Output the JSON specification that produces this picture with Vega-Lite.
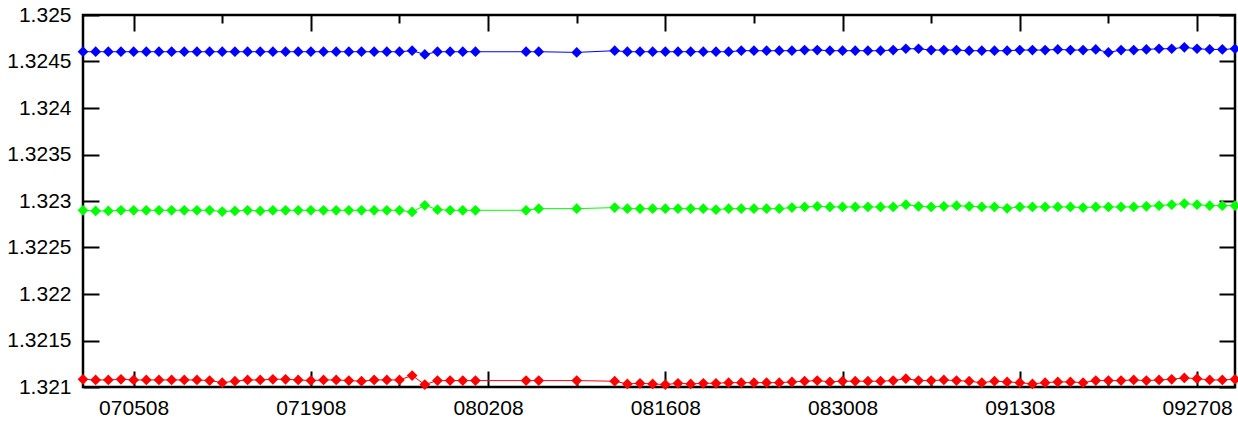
{
  "$schema": "https://vega.github.io/schema/vega-lite/v6.json",
  "width": 1152,
  "height": 372,
  "autosize": "none",
  "padding": {"left": 83, "top": 15, "right": 3, "bottom": 39},
  "background": "white",
  "config": {
    "view": {"stroke": "black", "strokeWidth": 2.5},
    "axis": {"labelFont": "Liberation Sans", "labelFontSize": 21, "labelColor": "black", "tickColor": "black", "tickWidth": 2, "domain": false, "grid": false, "title": null, "labelFlush": false, "labelOverlap": false}
  },
  "data": {"values": [
    {"date": "2008-07-01", "blue": 1.324605, "green": 1.3229, "red": 1.321083},
    {"date": "2008-07-02", "blue": 1.324605, "green": 1.322893, "red": 1.321076},
    {"date": "2008-07-03", "blue": 1.324605, "green": 1.322893, "red": 1.321076},
    {"date": "2008-07-04", "blue": 1.324605, "green": 1.3229, "red": 1.321083},
    {"date": "2008-07-05", "blue": 1.324605, "green": 1.3229, "red": 1.321076},
    {"date": "2008-07-06", "blue": 1.324605, "green": 1.3229, "red": 1.321076},
    {"date": "2008-07-07", "blue": 1.324605, "green": 1.3229, "red": 1.321076},
    {"date": "2008-07-08", "blue": 1.324605, "green": 1.3229, "red": 1.321076},
    {"date": "2008-07-09", "blue": 1.324605, "green": 1.3229, "red": 1.321076},
    {"date": "2008-07-10", "blue": 1.324605, "green": 1.3229, "red": 1.321076},
    {"date": "2008-07-11", "blue": 1.324605, "green": 1.3229, "red": 1.321069},
    {"date": "2008-07-12", "blue": 1.324605, "green": 1.322886, "red": 1.321047},
    {"date": "2008-07-13", "blue": 1.324605, "green": 1.322893, "red": 1.321062},
    {"date": "2008-07-14", "blue": 1.324605, "green": 1.3229, "red": 1.321076},
    {"date": "2008-07-15", "blue": 1.324605, "green": 1.322893, "red": 1.321076},
    {"date": "2008-07-16", "blue": 1.324605, "green": 1.3229, "red": 1.321083},
    {"date": "2008-07-17", "blue": 1.324605, "green": 1.3229, "red": 1.321083},
    {"date": "2008-07-18", "blue": 1.324605, "green": 1.3229, "red": 1.321076},
    {"date": "2008-07-19", "blue": 1.324605, "green": 1.3229, "red": 1.321069},
    {"date": "2008-07-20", "blue": 1.324605, "green": 1.3229, "red": 1.321076},
    {"date": "2008-07-21", "blue": 1.324605, "green": 1.3229, "red": 1.321076},
    {"date": "2008-07-22", "blue": 1.324605, "green": 1.3229, "red": 1.321069},
    {"date": "2008-07-23", "blue": 1.324605, "green": 1.3229, "red": 1.321062},
    {"date": "2008-07-24", "blue": 1.324605, "green": 1.3229, "red": 1.321076},
    {"date": "2008-07-25", "blue": 1.324605, "green": 1.3229, "red": 1.321076},
    {"date": "2008-07-26", "blue": 1.324605, "green": 1.3229, "red": 1.321076},
    {"date": "2008-07-27", "blue": 1.324616, "green": 1.322882, "red": 1.321123},
    {"date": "2008-07-28", "blue": 1.324576, "green": 1.322954, "red": 1.321026},
    {"date": "2008-07-29", "blue": 1.324605, "green": 1.322907, "red": 1.321069},
    {"date": "2008-07-30", "blue": 1.324605, "green": 1.3229, "red": 1.321069},
    {"date": "2008-07-31", "blue": 1.324605, "green": 1.3229, "red": 1.321069},
    {"date": "2008-08-01", "blue": 1.324605, "green": 1.3229, "red": 1.321069},
    {"date": "2008-08-05", "blue": 1.324605, "green": 1.3229, "red": 1.321069},
    {"date": "2008-08-06", "blue": 1.324605, "green": 1.322918, "red": 1.321069},
    {"date": "2008-08-09", "blue": 1.324598, "green": 1.322918, "red": 1.321069},
    {"date": "2008-08-12", "blue": 1.324616, "green": 1.322929, "red": 1.321062},
    {"date": "2008-08-13", "blue": 1.324605, "green": 1.322918, "red": 1.321033},
    {"date": "2008-08-14", "blue": 1.324605, "green": 1.322918, "red": 1.32104},
    {"date": "2008-08-15", "blue": 1.324605, "green": 1.322918, "red": 1.321033},
    {"date": "2008-08-16", "blue": 1.324605, "green": 1.322918, "red": 1.321026},
    {"date": "2008-08-17", "blue": 1.324605, "green": 1.322918, "red": 1.32104},
    {"date": "2008-08-18", "blue": 1.324605, "green": 1.322918, "red": 1.321033},
    {"date": "2008-08-19", "blue": 1.324605, "green": 1.322918, "red": 1.32104},
    {"date": "2008-08-20", "blue": 1.324605, "green": 1.322907, "red": 1.32104},
    {"date": "2008-08-21", "blue": 1.324605, "green": 1.322918, "red": 1.321047},
    {"date": "2008-08-22", "blue": 1.324616, "green": 1.322918, "red": 1.321047},
    {"date": "2008-08-23", "blue": 1.324616, "green": 1.322918, "red": 1.321047},
    {"date": "2008-08-24", "blue": 1.324616, "green": 1.322918, "red": 1.321047},
    {"date": "2008-08-25", "blue": 1.324616, "green": 1.322918, "red": 1.321047},
    {"date": "2008-08-26", "blue": 1.324616, "green": 1.322929, "red": 1.321055},
    {"date": "2008-08-27", "blue": 1.324623, "green": 1.322936, "red": 1.321062},
    {"date": "2008-08-28", "blue": 1.324623, "green": 1.322943, "red": 1.321069},
    {"date": "2008-08-29", "blue": 1.324616, "green": 1.322936, "red": 1.321055},
    {"date": "2008-08-30", "blue": 1.324616, "green": 1.322936, "red": 1.321062},
    {"date": "2008-08-31", "blue": 1.324616, "green": 1.322936, "red": 1.321062},
    {"date": "2008-09-01", "blue": 1.324616, "green": 1.322936, "red": 1.321062},
    {"date": "2008-09-02", "blue": 1.324616, "green": 1.322936, "red": 1.321062},
    {"date": "2008-09-03", "blue": 1.324623, "green": 1.322936, "red": 1.321069},
    {"date": "2008-09-04", "blue": 1.324637, "green": 1.322961, "red": 1.32109},
    {"date": "2008-09-05", "blue": 1.324637, "green": 1.322943, "red": 1.321069},
    {"date": "2008-09-06", "blue": 1.324623, "green": 1.322936, "red": 1.321069},
    {"date": "2008-09-07", "blue": 1.324623, "green": 1.322943, "red": 1.321076},
    {"date": "2008-09-08", "blue": 1.324623, "green": 1.32295, "red": 1.321069},
    {"date": "2008-09-09", "blue": 1.324616, "green": 1.322943, "red": 1.321062},
    {"date": "2008-09-10", "blue": 1.324616, "green": 1.322936, "red": 1.321047},
    {"date": "2008-09-11", "blue": 1.324616, "green": 1.322936, "red": 1.321062},
    {"date": "2008-09-12", "blue": 1.324616, "green": 1.322921, "red": 1.321055},
    {"date": "2008-09-13", "blue": 1.324623, "green": 1.322936, "red": 1.321047},
    {"date": "2008-09-14", "blue": 1.324623, "green": 1.322936, "red": 1.321033},
    {"date": "2008-09-15", "blue": 1.324623, "green": 1.322936, "red": 1.321047},
    {"date": "2008-09-16", "blue": 1.32463, "green": 1.322936, "red": 1.321055},
    {"date": "2008-09-17", "blue": 1.324623, "green": 1.322936, "red": 1.321055},
    {"date": "2008-09-18", "blue": 1.324623, "green": 1.322929, "red": 1.321047},
    {"date": "2008-09-19", "blue": 1.32463, "green": 1.322936, "red": 1.321069},
    {"date": "2008-09-20", "blue": 1.324598, "green": 1.322936, "red": 1.321069},
    {"date": "2008-09-21", "blue": 1.324623, "green": 1.322936, "red": 1.321069},
    {"date": "2008-09-22", "blue": 1.324623, "green": 1.322936, "red": 1.321076},
    {"date": "2008-09-23", "blue": 1.32463, "green": 1.322943, "red": 1.321069},
    {"date": "2008-09-24", "blue": 1.324637, "green": 1.32295, "red": 1.321076},
    {"date": "2008-09-25", "blue": 1.324637, "green": 1.322961, "red": 1.321083},
    {"date": "2008-09-26", "blue": 1.324652, "green": 1.322972, "red": 1.321098},
    {"date": "2008-09-27", "blue": 1.324637, "green": 1.322961, "red": 1.32109},
    {"date": "2008-09-28", "blue": 1.32463, "green": 1.32295, "red": 1.321076},
    {"date": "2008-09-29", "blue": 1.32463, "green": 1.32295, "red": 1.321076},
    {"date": "2008-09-30", "blue": 1.324637, "green": 1.32295, "red": 1.321083}
  ]},
  "transform": [{"fold": ["blue", "green", "red"], "as": ["series", "value"]}],
  "layer": [
    {
      "mark": {"type": "line", "strokeWidth": 1},
      "encoding": {
        "x": {"field": "date", "type": "temporal",
          "scale": {"type": "utc", "domain": [{"year": 2008, "month": 7, "date": 1, "utc": true}, {"year": 2008, "month": 9, "date": 30, "utc": true}], "nice": false},
          "axis": {"orient": "bottom", "tickSize": -16, "labelPadding": 26,
            "values": [{"year": 2008, "month": 7, "date": 5, "utc": true}, {"year": 2008, "month": 7, "date": 19, "utc": true}, {"year": 2008, "month": 8, "date": 2, "utc": true}, {"year": 2008, "month": 8, "date": 16, "utc": true}, {"year": 2008, "month": 8, "date": 30, "utc": true}, {"year": 2008, "month": 9, "date": 13, "utc": true}, {"year": 2008, "month": 9, "date": 27, "utc": true}],
            "labelExpr": "utcFormat(datum.value, '%m%d%y')"}},
        "y": {"field": "value", "type": "quantitative",
          "scale": {"domain": [1.321, 1.325], "nice": false, "zero": false},
          "axis": {"orient": "left", "tickSize": -16, "labelPadding": 28,
            "values": [1.321, 1.3215, 1.322, 1.3225, 1.323, 1.3235, 1.324, 1.3245, 1.325],
            "labelExpr": "format(datum.value, '.4~f')"}},
        "color": {"field": "series", "type": "nominal", "scale": {"domain": ["blue", "green", "red"], "range": ["#0000ff", "#00ff00", "#ff0000"]}, "legend": null}
      }
    },
    {
      "mark": {"type": "point", "shape": "diamond", "filled": true, "size": 115, "opacity": 1},
      "encoding": {
        "x": {"field": "date", "type": "temporal",
          "scale": {"type": "utc", "domain": [{"year": 2008, "month": 7, "date": 1, "utc": true}, {"year": 2008, "month": 9, "date": 30, "utc": true}], "nice": false},
          "axis": {"orient": "top", "tickSize": -16, "labels": false,
            "values": [{"year": 2008, "month": 7, "date": 5, "utc": true}, {"year": 2008, "month": 7, "date": 19, "utc": true}, {"year": 2008, "month": 8, "date": 2, "utc": true}, {"year": 2008, "month": 8, "date": 16, "utc": true}, {"year": 2008, "month": 8, "date": 30, "utc": true}, {"year": 2008, "month": 9, "date": 13, "utc": true}, {"year": 2008, "month": 9, "date": 27, "utc": true}]}},
        "y": {"field": "value", "type": "quantitative",
          "scale": {"domain": [1.321, 1.325], "nice": false, "zero": false},
          "axis": {"orient": "right", "tickSize": -16, "labels": false,
            "values": [1.321, 1.3215, 1.322, 1.3225, 1.323, 1.3235, 1.324, 1.3245, 1.325]}},
        "color": {"field": "series", "type": "nominal", "scale": {"domain": ["blue", "green", "red"], "range": ["#0000ff", "#00ff00", "#ff0000"]}, "legend": null}
      }
    },
    {
      "mark": {"type": "point", "opacity": 0},
      "encoding": {
        "x": {"field": "date", "type": "temporal",
          "scale": {"type": "utc", "domain": [{"year": 2008, "month": 7, "date": 1, "utc": true}, {"year": 2008, "month": 9, "date": 30, "utc": true}], "nice": false},
          "axis": {"orient": "bottom", "tickSize": -8, "labels": false,
            "values": [{"year": 2008, "month": 7, "date": 12, "utc": true}, {"year": 2008, "month": 7, "date": 26, "utc": true}, {"year": 2008, "month": 8, "date": 9, "utc": true}, {"year": 2008, "month": 8, "date": 23, "utc": true}, {"year": 2008, "month": 9, "date": 6, "utc": true}, {"year": 2008, "month": 9, "date": 20, "utc": true}]}}
      }
    },
    {
      "mark": {"type": "point", "opacity": 0},
      "encoding": {
        "x": {"field": "date", "type": "temporal",
          "scale": {"type": "utc", "domain": [{"year": 2008, "month": 7, "date": 1, "utc": true}, {"year": 2008, "month": 9, "date": 30, "utc": true}], "nice": false},
          "axis": {"orient": "top", "tickSize": -8, "labels": false,
            "values": [{"year": 2008, "month": 7, "date": 12, "utc": true}, {"year": 2008, "month": 7, "date": 26, "utc": true}, {"year": 2008, "month": 8, "date": 9, "utc": true}, {"year": 2008, "month": 8, "date": 23, "utc": true}, {"year": 2008, "month": 9, "date": 6, "utc": true}, {"year": 2008, "month": 9, "date": 20, "utc": true}]}}
      }
    }
  ],
  "resolve": {"axis": {"x": "independent", "y": "independent"}}
}
